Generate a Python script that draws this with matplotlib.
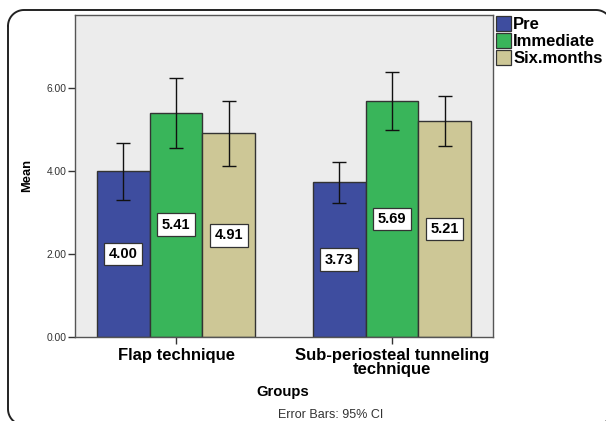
import matplotlib
matplotlib.use("Agg")
import matplotlib.pyplot as plt
import numpy as np
from matplotlib.patches import Patch

plt.rcParams["font.family"] = ["Liberation Sans", "DejaVu Sans"]

groups = ["Flap technique", "Sub-periosteal tunneling\ntechnique"]
series = ["Pre", "Immediate", "Six.months"]
means = {
    "Pre": [4.00, 3.73],
    "Immediate": [5.41, 5.69],
    "Six.months": [4.91, 5.21],
}
ci_low = {
    "Pre": [3.30, 3.23],
    "Immediate": [4.55, 4.99],
    "Six.months": [4.12, 4.60],
}
ci_high = {
    "Pre": [4.68, 4.22],
    "Immediate": [6.24, 6.39],
    "Six.months": [5.69, 5.81],
}
yticks = [0, 2, 4, 6]
colors = {"Pre": "#3E4D9F", "Immediate": "#39B55A", "Six.months": "#CDC796"}

W, H = 606, 421
fig = plt.figure(figsize=(W / 100, H / 100), dpi=100)
fig.patch.set_facecolor("white")

# background axes in pixel units for the outer rounded frame
bg = fig.add_axes([0, 0, 1, 1], zorder=-1)
bg.set_xlim(0, W)
bg.set_ylim(H, 0)
bg.axis("off")
L, T, R, B, r = 8, 10, 612, 425, 16
t = np.linspace(0, np.pi / 2, 20)
px, py = [], []
# top-left corner
px += list(L + r - r * np.cos(t)); py += list(T + r - r * np.sin(t))
# top-right corner
px += list(R - r + r * np.sin(t)); py += list(T + r - r * np.cos(t))
# bottom-right corner
px += list(R - r + r * np.cos(t)); py += list(B - r + r * np.sin(t))
# bottom-left corner
px += list(L + r - r * np.sin(t)); py += list(B - r + r * np.cos(t))
px.append(px[0]); py.append(py[0])
bg.plot(px, py, color="#222222", linewidth=1.4, solid_joinstyle="round")

ax = fig.add_axes([75 / W, (H - 337) / H, (493 - 75) / W, (337 - 15) / H])
ax.set_facecolor("#ECECEC")

x = np.arange(len(groups))
bw = 0.245
offsets = [-bw, 0, bw]
for s, off in zip(series, offsets):
    m = np.array(means[s])
    lo = m - np.array(ci_low[s])
    hi = np.array(ci_high[s]) - m
    ax.bar(x + off, m, width=bw, color=colors[s], edgecolor="#333333",
           linewidth=1.0, zorder=2)
    ax.errorbar(x + off, m, yerr=[lo, hi], fmt="none", ecolor="#111111",
                elinewidth=1.0, capsize=5, capthick=1.0, zorder=3)
    for xi, mi in zip(x + off, m):
        ax.text(xi, mi / 2, f"{mi:.2f}", ha="center", va="center",
                fontsize=10.5, fontweight="bold", color="black", zorder=4,
                bbox=dict(boxstyle="square,pad=0.3", facecolor="white",
                          edgecolor="#333333", linewidth=0.9))

ax.set_xlim(-0.468, 1.468)
ax.set_ylim(0, 7.76)
ax.set_yticks(yticks)
ax.set_yticklabels([f"{v:.2f}" for v in yticks], fontsize=7.4, color="#333333")
ax.set_xticks(x)
ax.set_xticklabels(groups, fontsize=12, fontweight="bold", linespacing=0.9)
ax.tick_params(axis="y", length=5, width=1, color="#333333", pad=1)
ax.tick_params(axis="x", length=5, width=1, color="#333333", pad=3)
for sp in ax.spines.values():
    sp.set_color("#555555")
    sp.set_linewidth(1.0)

ax.set_ylabel("Mean", fontsize=9.3, fontweight="bold", labelpad=10)
fig.text(283 / W, 1 - 392 / H, "Groups", ha="center", va="center",
         fontsize=10.7, fontweight="bold")
fig.text(331 / W, 1 - 415 / H, "Error Bars: 95% CI", ha="center",
         va="center", fontsize=9, color="#333333", zorder=5)

handles = [Patch(facecolor=colors[s], edgecolor="#333333", linewidth=0.9)
           for s in series]
fig.legend(handles, series, loc="upper left",
           bbox_to_anchor=(494 / W, 1 - 14 / H), frameon=False,
           prop={"weight": "bold", "size": 12}, handlelength=0.9,
           handleheight=1.0, handletextpad=0.15, labelspacing=0.05,
           borderpad=0.1, borderaxespad=0)

fig.savefig("out.png", dpi=100, bbox_inches=None)
